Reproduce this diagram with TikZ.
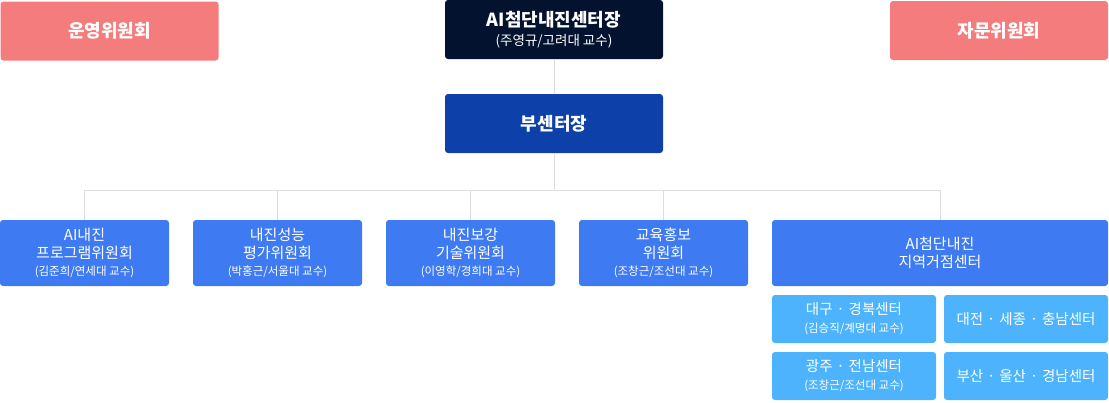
\documentclass[tikz,border=0pt]{standalone}
\usepackage{fontspec}
\setmainfont{Noto Sans CJK KR}
\usepackage{tikz}
\usetikzlibrary{calc}

\definecolor{pinkbox}{HTML}{F47C7C}
\definecolor{navybox}{HTML}{02122F}
\definecolor{deepblue}{HTML}{0D40A8}
\definecolor{midblue}{HTML}{3E7AF2}
\definecolor{skyblue}{HTML}{4EB3FD}
\definecolor{linegray}{HTML}{DDDDDD}

\newcommand{\prof}[1]{{\fontsize{11.5}{15}\selectfont (#1)}}
\newcommand{\ctrdot}{\kern4pt·\kern4pt}

\begin{document}
\begin{tikzpicture}[x=1pt,y=-1pt,
	box/.style={rounded corners=3pt,inner sep=0pt,align=center,text=white},
	titlebox/.style={box,minimum width=218pt,minimum height=59pt,font=\fontsize{18}{22}\selectfont\bfseries},
	unitbox/.style={box,fill=midblue,minimum width=169pt,minimum height=66pt,font=\fontsize{15}{17.5}\selectfont},
	areabox/.style={box,fill=skyblue,minimum width=164pt,minimum height=48pt,font=\fontsize{14.5}{18}\selectfont},
	link/.style={draw=linegray,line width=0.8pt}]
\useasboundingbox (0,0) rectangle (1109,402);

% top row
\node[titlebox,fill=pinkbox] (steer) at (109.5,31) {운영위원회};
\node[titlebox,fill=navybox] (head) at (554,29.5) {AI첨단내진센터장\\[-3pt]{\fontsize{13.5}{15}\mdseries\selectfont (주영규/고려대 교수)}};
\node[titlebox,fill=pinkbox] (advis) at (999,30.5) {자문위원회};
\node[titlebox,fill=deepblue] (vice) at (554,123.5) {부센터장};

% committees
\foreach \name/\x/\txt in {prog/84.5/{AI내진\\프로그램위원회\\\prof{김준희/연세대 교수}},
	eval/277.5/{내진성능\\평가위원회\\\prof{박홍근/서울대 교수}},
	retro/470.5/{내진보강\\기술위원회\\\prof{이영학/경희대 교수}},
	edu/663.5/{교육홍보\\위원회\\\prof{조창근/조선대 교수}}}
	{
	\node[unitbox] (\name) at (\x,253) {\txt};
	}
\node[unitbox,minimum width=336pt] (region) at (940,253) {AI첨단내진\\지역거점센터};

% regional centres
\node[areabox] (daegu) at (854,319) {대구\ctrdot 경북센터\\\prof{김승직/계명대 교수}};
\node[areabox] (daejeon) at (1026,319) {대전\ctrdot 세종\ctrdot 충남센터};
\node[areabox] (gwangju) at (854,376) {광주\ctrdot 전남센터\\\prof{조창근/조선대 교수}};
\node[areabox] (busan) at (1026,376) {부산\ctrdot 울산\ctrdot 경남센터};

% lines
\coordinate (bus) at (554,190);
\draw[link] (head.south) -- (vice.north);
\draw[link] (vice.south) -- (bus);
\draw[link] (prog.north |- bus) -- (region.north |- bus);
\foreach \name in {prog,eval,retro,edu,region}
	{
	\draw[link] (\name.north |- bus) -- (\name.north);
	}
\end{tikzpicture}
\end{document}
